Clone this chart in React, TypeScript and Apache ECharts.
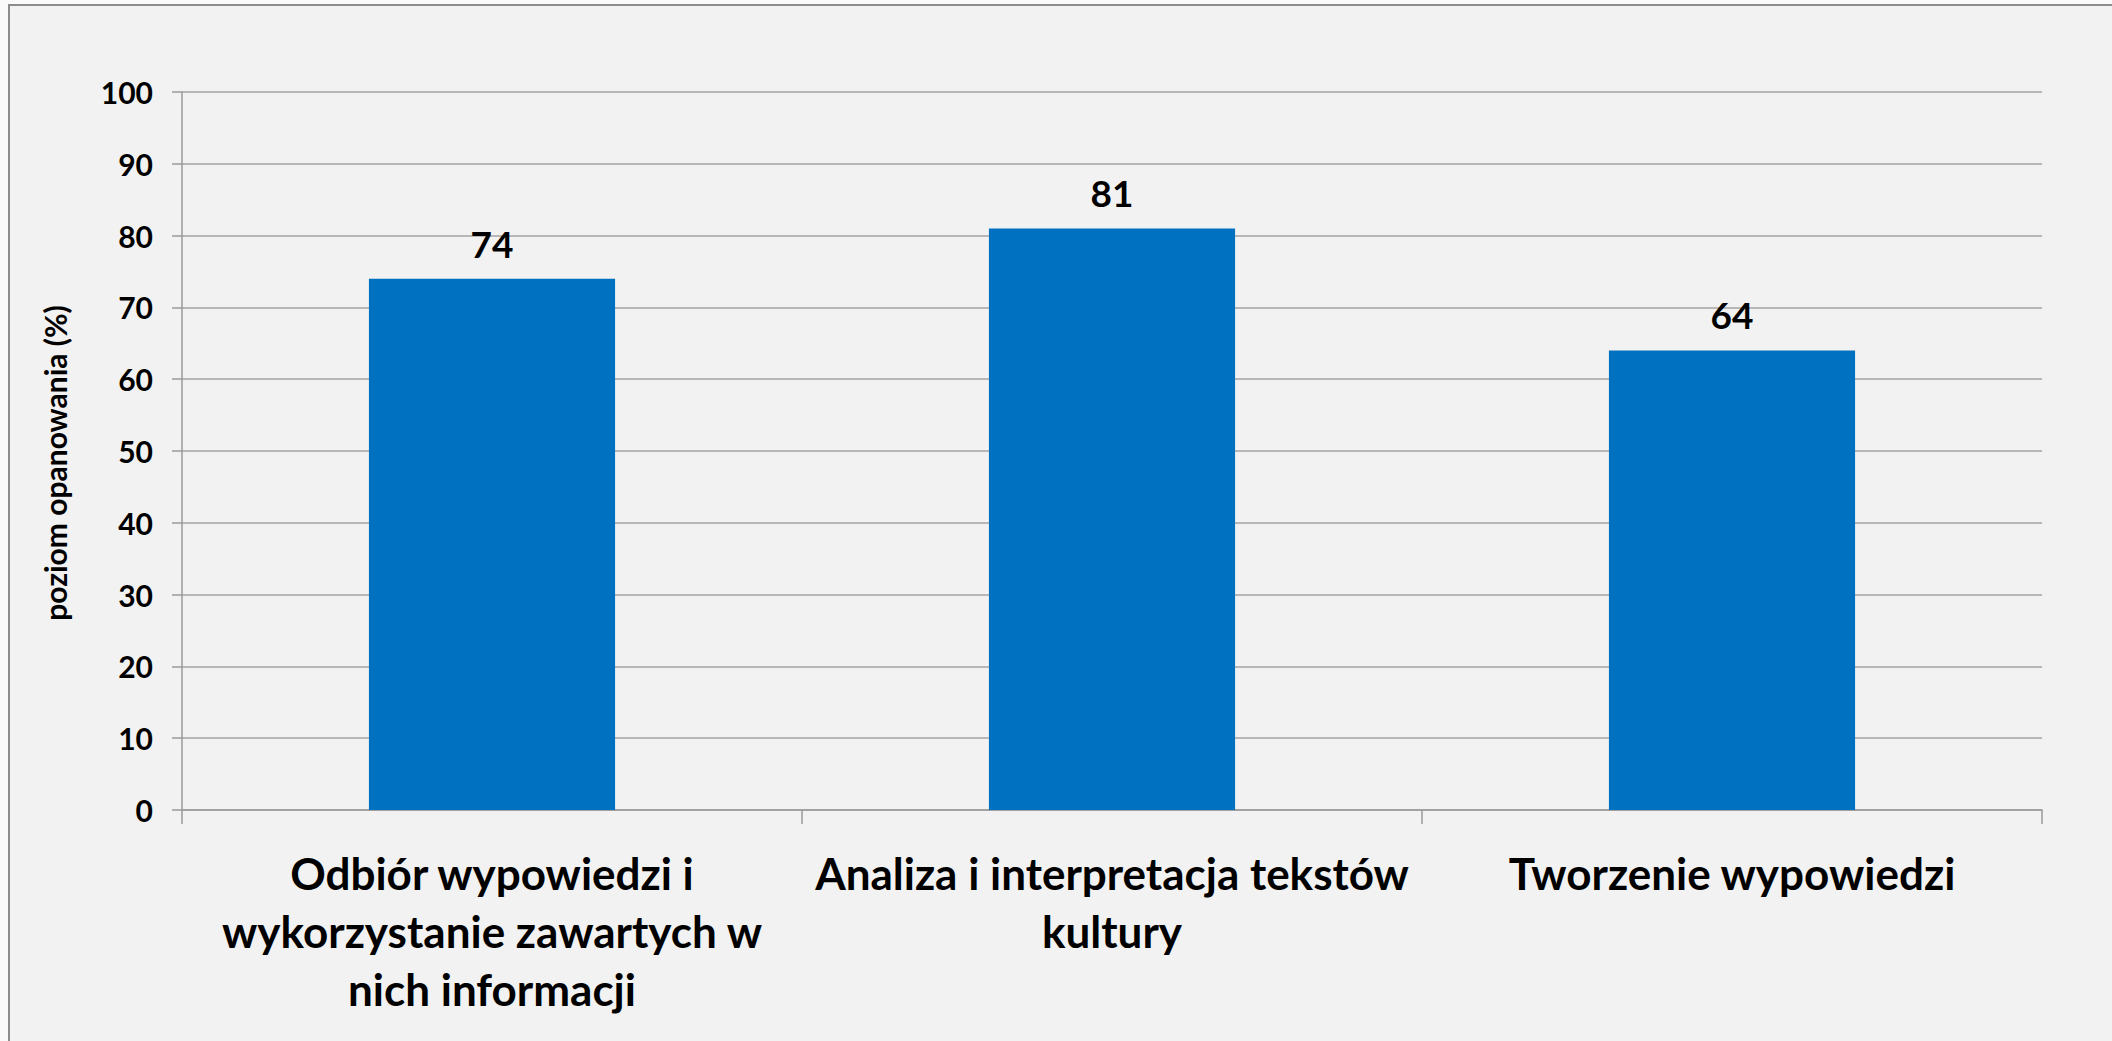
import React, { useEffect, useRef } from "react";
import * as echarts from "echarts";

const categories = [
  "Odbiór wypowiedzi i\nwykorzystanie zawartych w\nnich informacji",
  "Analiza i interpretacja tekstów\nkultury",
  "Tworzenie wypowiedzi",
];
const values = [74, 81, 64];
const yAxisTitle = "poziom opanowania (%)";
const yMin = 0;
const yMax = 100;
const yStep = 10;

const FONT = "Lato, 'Open Sans', sans-serif";

export default function App() {
  const ref = useRef<HTMLDivElement>(null);

  useEffect(() => {
    if (!ref.current) return;
    const chart = echarts.init(ref.current, undefined, { renderer: "svg" });
    chart.setOption({
      animation: false,
      textStyle: { fontFamily: FONT },
      grid: { left: 182, right: 70, top: 92, bottom: 231, containLabel: false },
      graphic: [
        {
          type: "text",
          x: 55,
          y: 463,
          rotation: Math.PI / 2,
          style: {
            text: yAxisTitle,
            fontFamily: FONT,
            fontWeight: "bold",
            fontSize: 30,
            fill: "#000",
            align: "center",
            verticalAlign: "middle",
          },
        },
      ],
      xAxis: {
        type: "category",
        data: categories,
        axisLine: { lineStyle: { color: "#9a9a9a", width: 1.5 } },
        axisTick: { show: true, alignWithLabel: false, length: 14, lineStyle: { color: "#9a9a9a", width: 1.5 } },
        axisLabel: {
          interval: 0,
          margin: 34,
          fontFamily: FONT,
          fontWeight: "bold",
          fontSize: 44,
          lineHeight: 58,
          color: "#000",
          align: "center",
        },
      },
      yAxis: {
        type: "value",
        min: yMin,
        max: yMax,
        interval: yStep,
        axisLine: { show: true, lineStyle: { color: "#9a9a9a", width: 1.5 } },
        axisTick: { show: true, length: 10, lineStyle: { color: "#9a9a9a", width: 1.5 } },
        splitLine: { show: true, lineStyle: { color: "#a3a3a3", width: 1.5 } },
        axisLabel: {
          margin: 29,
          fontFamily: FONT,
          fontWeight: "bold",
          fontSize: 30,
          color: "#000",
        },
      },
      series: [
        {
          type: "bar",
          data: values,
          barWidth: "39.7%",
          itemStyle: { color: "#0070C0" },
          label: {
            show: true,
            position: "top",
            distance: 17,
            fontFamily: FONT,
            fontWeight: "bold",
            fontSize: 37,
            color: "#000",
          },
        },
      ],
    });
    return () => chart.dispose();
  }, []);

  return (
    <div style={{ position: "fixed", left: 0, top: 0, width: 2112, height: 1041, background: "#fafafa", overflow: "hidden" }}>
      <div
        style={{
          position: "absolute",
          left: 8,
          top: 4,
          width: 2200,
          height: 1200,
          background: "#f2f2f2",
          borderLeft: "2px solid #8c8c8c",
          borderTop: "2px solid #8c8c8c",
        }}
      />
      <div ref={ref} style={{ position: "absolute", left: 0, top: 0, width: 2112, height: 1041 }} />
    </div>
  );
}
